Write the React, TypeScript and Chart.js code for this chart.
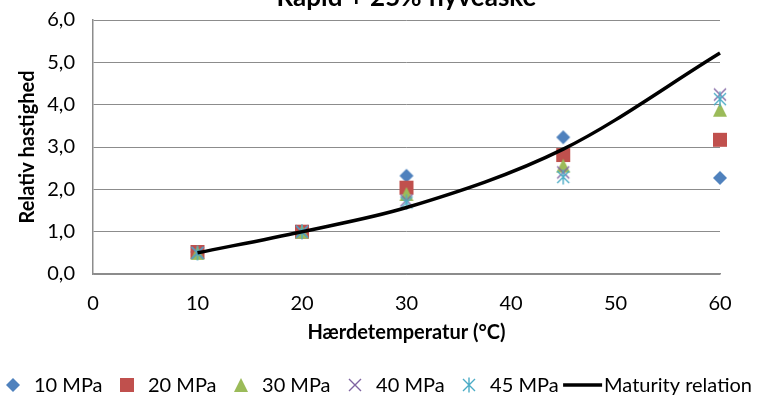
import { useEffect, useRef } from 'react';
import { Chart, registerables } from 'chart.js';

Chart.register(...registerables);

// ---- text ----
const TITLE = 'Rapid + 25% flyveaske';
const X_TITLE = 'Hærdetemperatur (°C)';
const Y_TITLE = 'Relativ hastighed';

// ---- data ----
const temperatures = [10, 20, 30, 45, 60];
const mpa10 = [0.52, 1.0, 2.32, 3.23, 2.27];
const mpa20 = [0.52, 1.0, 2.04, 2.81, 3.17];
const mpa30 = [0.5, 1.0, 1.89, 2.56, 3.88];
const mpa40 = [0.5, 1.0, 1.74, 2.4, 4.24];
const mpa45 = [0.5, 1.0, 1.69, 2.29, 4.13];
const maturity = [0.5, 1.0, 1.57, 2.95, 5.22];
const seriesLabels = ['10 MPa', '20 MPa', '30 MPa', '40 MPa', '45 MPa', 'Maturity relation'];

const xMin = 0;
const xMax = 60;
const xStep = 10;
const yMin = 0;
const yMax = 6;
const yStep = 1;

// ---- look ----
const FONT = 'Lato, "Open Sans", sans-serif';
const TEXT_SIZE = 20;
const COLORS = ['#4F81BD', '#C0504D', '#9BBB59', '#8064A2', '#4BACC6'];
const MARKERS = ['diamond', 'square', 'triangle', 'cross', 'star'];
const GRID = '#8c8c8c';
const CANVAS_W = 771;
const CANVAS_H = 429;
const OFFSET_TOP = 30;

function makeMarker(kind: string, color: string): HTMLCanvasElement {
  const c = document.createElement('canvas');
  const s = 16;
  c.width = s;
  c.height = s;
  const g = c.getContext('2d')!;
  const m = s / 2;
  g.fillStyle = color;
  g.strokeStyle = color;
  if (kind === 'diamond') {
    const r = 7;
    g.beginPath();
    g.moveTo(m, m - r);
    g.lineTo(m + r, m);
    g.lineTo(m, m + r);
    g.lineTo(m - r, m);
    g.closePath();
    g.fill();
  } else if (kind === 'square') {
    const h = 7;
    g.fillRect(m - h, m - h, 2 * h, 2 * h);
  } else if (kind === 'triangle') {
    g.beginPath();
    g.moveTo(m, m - 7);
    g.lineTo(m + 7, m + 7);
    g.lineTo(m - 7, m + 7);
    g.closePath();
    g.fill();
  } else if (kind === 'cross') {
    const h = 6;
    g.lineWidth = 1.4;
    g.beginPath();
    g.moveTo(m - h, m - h);
    g.lineTo(m + h, m + h);
    g.moveTo(m + h, m - h);
    g.lineTo(m - h, m + h);
    g.stroke();
  } else if (kind === 'star') {
    const h = 6;
    g.lineWidth = 1.4;
    g.beginPath();
    g.moveTo(m - h, m - h);
    g.lineTo(m + h, m + h);
    g.moveTo(m + h, m - h);
    g.lineTo(m - h, m + h);
    g.moveTo(m, m - 7.5);
    g.lineTo(m, m + 7.5);
    g.stroke();
  }
  return c;
}

const toPoints = (ys: number[]) => temperatures.map((x, i) => ({ x, y: ys[i] }));

const LEGEND_LEFT = -7;
const LEGEND_KEY_W = 39;
const LEGEND_TEXT_GAP = 2;
const LEGEND_ITEM_GAP = 4.5;
const LEGEND_CENTER_FROM_BOTTOM = 14;

// Legend row drawn under the axis title: key (marker or line) followed by its label.
const legendRow = {
  id: 'legendRow',
  afterDraw(chart: any) {
    const ctx = chart.ctx as CanvasRenderingContext2D;
    ctx.save();
    ctx.font = `${TEXT_SIZE}px ${FONT}`;
    ctx.fillStyle = '#000';
    ctx.textBaseline = 'middle';
    ctx.textAlign = 'left';
    let x = LEGEND_LEFT;
    const y = chart.height - LEGEND_CENTER_FROM_BOTTOM;
    for (const ds of chart.data.datasets as any[]) {
      const label = ds.label as string;
      const w = ctx.measureText(label).width;
      const cx = x + LEGEND_KEY_W / 2;
      if (ds.legendKey === 'line') {
        ctx.strokeStyle = '#000';
        ctx.lineWidth = 3.5;
        ctx.beginPath();
        ctx.moveTo(x, y);
        ctx.lineTo(x + LEGEND_KEY_W, y);
        ctx.stroke();
      } else {
        const img = ds.legendKey as HTMLCanvasElement;
        ctx.drawImage(img, Math.round(cx - img.width / 2), Math.round(y - img.height / 2));
      }
      ctx.fillText(label, x + LEGEND_KEY_W + LEGEND_TEXT_GAP, y + 1);
      x += LEGEND_KEY_W + LEGEND_TEXT_GAP + w + LEGEND_ITEM_GAP;
    }
    ctx.restore();
  },
};

export default function App() {
  const canvasRef = useRef<HTMLCanvasElement | null>(null);

  useEffect(() => {
    const canvas = canvasRef.current;
    if (!canvas) return;
    const series = [mpa10, mpa20, mpa30, mpa40, mpa45];
    const markerDatasets = series.map((ys, i) => {
      const img = makeMarker(MARKERS[i], COLORS[i]);
      return {
        type: 'scatter' as const,
        label: seriesLabels[i],
        data: toPoints(ys),
        pointStyle: img,
        pointRadius: 8,
        borderColor: COLORS[i],
        backgroundColor: COLORS[i],
        showLine: false,
        clip: false as any,
        order: 10 - i,
        legendKey: img,
      };
    });
    const chart = new Chart(canvas, {
      type: 'scatter',
      data: {
        datasets: [
          ...markerDatasets,
          {
            type: 'line' as const,
            label: seriesLabels[5],
            data: toPoints(maturity),
            borderColor: '#000',
            backgroundColor: '#000',
            borderWidth: 3.5,
            pointRadius: 0,
            showLine: true,
            cubicInterpolationMode: 'monotone',
            clip: false as any,
            order: 1,
            legendKey: 'line',
          } as any,
        ],
      },
      options: {
        responsive: false,
        animation: false,
        devicePixelRatio: 1,
        events: [],
        layout: { padding: { top: 0, right: 51, bottom: 45, left: 0 } },
        plugins: {
          legend: { display: false },
          tooltip: { enabled: false },
          title: {
            display: true,
            text: TITLE,
            fullSize: false,
            color: '#000',
            font: { family: FONT, size: 26, weight: 'bold' },
            padding: { top: 12.4, bottom: 6.4 },
          },
        },
        scales: {
          x: {
            type: 'linear',
            min: xMin,
            max: xMax,
            grid: { display: false },
            border: { display: true, color: GRID, width: 1.5 },
            ticks: {
              stepSize: xStep,
              color: '#000',
              padding: 10,
              font: { family: FONT, size: TEXT_SIZE },
            },
            title: {
              display: true,
              text: X_TITLE,
              color: '#000',
              font: { family: FONT, size: TEXT_SIZE, weight: 'bold' },
              padding: { top: 0, bottom: 9 },
            },
            afterFit: (scale: any) => {
              scale.height = 80;
            },
          },
          y: {
            type: 'linear',
            min: yMin,
            max: yMax,
            grid: { color: GRID, lineWidth: 1, drawTicks: false },
            border: { display: true, color: GRID, width: 1.5 },
            ticks: {
              stepSize: yStep,
              color: '#000',
              padding: 18,
              font: { family: FONT, size: TEXT_SIZE },
              callback: (v: any) => Number(v).toFixed(1).replace('.', ','),
            },
            title: {
              display: true,
              text: Y_TITLE,
              color: '#000',
              font: { family: FONT, size: TEXT_SIZE, weight: 'bold' },
              padding: { top: 16, bottom: 0 },
            },
            afterFit: (scale: any) => {
              scale.width = 93;
            },
          },
        },
      },
      plugins: [legendRow],
    });
    return () => chart.destroy();
  }, []);

  return (
    <div
      style={{
        position: 'absolute',
        left: 0,
        top: -OFFSET_TOP,
        width: CANVAS_W,
        height: CANVAS_H,
        background: '#fff',
      }}
    >
      <canvas ref={canvasRef} width={CANVAS_W} height={CANVAS_H} />
    </div>
  );
}
